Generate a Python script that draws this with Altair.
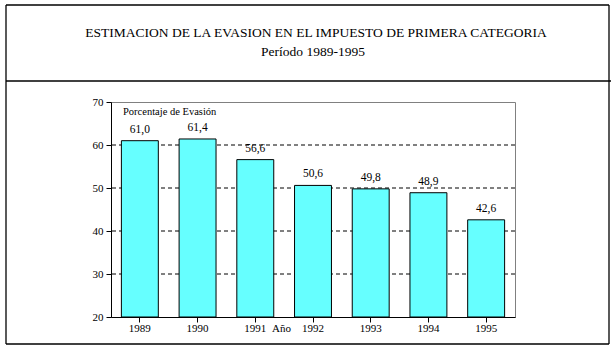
import altair as alt
import pandas as pd

years = ["1989", "1990", "1991", "1992", "1993", "1994", "1995"]
evasion = [61.0, 61.4, 56.6, 50.6, 49.8, 48.9, 42.6]
grid_values = [30, 40, 50, 60]
y_ticks = [20, 30, 40, 50, 60, 70]
title_text = "ESTIMACION DE LA EVASION EN EL IMPUESTO DE PRIMERA CATEGORIA"
subtitle_text = "Período 1989-1995"
series_text = "Porcentaje de Evasión"

df = pd.DataFrame({"year": years, "v": evasion})
grid_df = pd.DataFrame({"g": grid_values})
one = pd.DataFrame({"k": [0]})

FONT = "'Liberation Serif', 'Times New Roman', serif"
PL, PT = 111, 102
W, H = 404, 215

x_enc = alt.X("year:N", title="Año",
              scale=alt.Scale(paddingInner=0.36, paddingOuter=0.18),
              axis=alt.Axis(labelAngle=0, labelFont=FONT, labelFontSize=11, labelColor="black",
                            labelPadding=0, tickColor="black", tickSize=5, domainColor="black",
                            titleFont=FONT, titleFontSize=11, titleFontWeight="normal",
                            titleColor="black", titleX=170, titleY=14, titleBaseline="alphabetic"))
y_scale = alt.Scale(domain=[20, 70], nice=False, zero=False)

bars = alt.Chart(df).mark_bar(fill="#66FFFF", stroke="black", strokeWidth=1).encode(
    x=x_enc,
    y=alt.Y("v:Q", title=None, scale=y_scale,
            axis=alt.Axis(values=y_ticks, grid=False, labelFont=FONT, labelFontSize=11,
                          labelColor="black", tickColor="black", tickSize=5,
                          domainColor="black", labelPadding=3)),
    y2=alt.datum(20),
)

grid = alt.Chart(grid_df).mark_rule(color="black", strokeDash=[4, 3], strokeWidth=1).encode(
    y=alt.Y("g:Q", scale=y_scale)
)

labels = alt.Chart(df).transform_calculate(
    lab="replace(format(datum.v, '.1f'), '.', ',')"
).mark_text(font=FONT, fontSize=11.5, baseline="bottom", dy=-6, color="black").encode(
    x=alt.X("year:N"),
    y=alt.Y("v:Q", scale=y_scale),
    text="lab:N",
)

series_label = alt.Chart(one).mark_text(
    text=series_text, font=FONT, fontSize=10.5, align="left", baseline="middle", color="black"
).encode(x=alt.value(12), y=alt.value(10))

title_mark = alt.Chart(one).mark_text(
    text=title_text, font=FONT, fontSize=13.5, align="center", baseline="middle", color="black"
).encode(x=alt.value(316 - PL), y=alt.value(33 - PT))

subtitle_mark = alt.Chart(one).mark_text(
    text=subtitle_text, font=FONT, fontSize=13.5, align="center", baseline="middle", color="black"
).encode(x=alt.value(313 - PL), y=alt.value(52 - PT))

def rule(**kw):
    return alt.Chart(one).mark_rule(color="black", strokeWidth=1.3).encode(**kw)

frame = [
    rule(x=alt.value(6 - PL), y=alt.value(5 - PT), y2=alt.value(344 - PT)),
    rule(x=alt.value(609 - PL), y=alt.value(5 - PT), y2=alt.value(344 - PT)),
    rule(x=alt.value(6 - PL), x2=alt.value(609 - PL), y=alt.value(5 - PT)),
    rule(x=alt.value(6 - PL), x2=alt.value(611 - PL), y=alt.value(81 - PT)),
    rule(x=alt.value(6 - PL), x2=alt.value(609 - PL), y=alt.value(344 - PT)),
]

chart = alt.layer(
    grid, bars, labels, series_label, title_mark, subtitle_mark, *frame
).properties(
    width=W, height=H,
    autosize=alt.AutoSizeParams(type="none"),
    padding={"left": PL, "top": PT, "right": 615 - PL - W, "bottom": 351 - PT - H},
    background="white",
).configure_view(stroke="#808080", strokeWidth=1)

chart.save("out.html", embed_options={"renderer": "svg", "actions": False})
